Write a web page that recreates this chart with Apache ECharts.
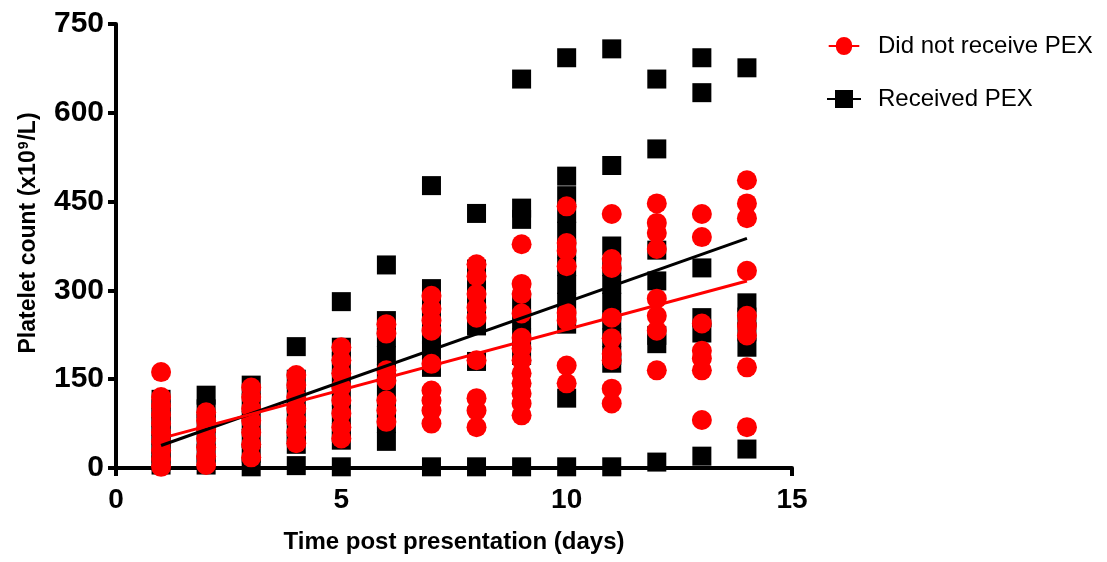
<!DOCTYPE html>
<html><head><meta charset="utf-8">
<script src="https://cdn.jsdelivr.net/npm/echarts@6/dist/echarts.min.js"></script>
<style>html,body{margin:0;padding:0;background:#fff}#c{width:1107px;height:562px}</style>
</head><body><div id="c"></div>
<script>
// Days post presentation
const days = [1,2,3,4,5,6,7,8,9,10,11,12,13,14];
// Platelet counts per day (x10^9/L)
const noPexValues = [
  [162,120,105,90,75,60,45,30,15,2],
  [94,80,65,50,35,20,5],
  [136,120,100,80,60,40,18],
  [157,140,120,100,80,60,42],
  [204,182,160,137,114,92,69,50],
  [243,227,165,148,114,97,78],
  [291,269,249,232,176,131,114,97,75],
  [344,324,294,271,254,182,118,97,69],
  [378,311,294,261,220,202,182,160,143,126,109,89],
  [442,380,367,341,262,249,173,143],
  [429,353,338,254,219,193,182,134,109],
  [447,414,397,370,286,257,232,165],
  [429,390,244,198,185,165,81],
  [486,447,422,333,257,240,224,170,69]
];
const pexValues = [
  [116,100,85,70,55,40,25,12,5],
  [123,100,75,50,25,5],
  [140,110,80,50,25,2],
  [205,150,120,90,60,40,4],
  [281,204,180,150,120,90,60,47,2],
  [343,249,220,190,160,130,100,75,45],
  [477,303,275,250,225,200,170,2],
  [430,336,305,275,240,180,2],
  [657,439,420,279,250,220,190,2],
  [693,493,460,430,400,370,340,310,280,243,118,2],
  [708,511,375,340,310,280,250,220,190,177,2],
  [657,539,368,316,224,210,10],
  [693,634,338,254,228,20],
  [676,279,255,230,204,32]
];
// Regression line end points
const fitDays = [1, 14];
const noPexFit = [50, 316];
const pexFit = [38, 388];
const seriesNames = ['Did not receive PEX', 'Received PEX'];

function pairs(vals) {
  const out = [];
  days.forEach((d, i) => vals[i].forEach(v => out.push([d, v])));
  return out;
}
function fitPairs(vals) { return fitDays.map((d, i) => [d, vals[i]]); }

const font = 'Liberation Sans, Arial, sans-serif';
const chart = echarts.init(document.getElementById('c'), null, {renderer: 'canvas'});
chart.setOption({
  animation: false,
  backgroundColor: '#fff',
  grid: {left: 116, right: 315, top: 24, bottom: 94},
  legend: {
    orient: 'vertical', left: 822, top: 29, itemWidth: 34, itemHeight: 18, itemGap: 29,
    textStyle: {fontFamily: font, fontSize: 24, color: '#000', padding: [0, 0, 0, 12]},
    data: [
      {name: seriesNames[0], icon: 'path://M0,8H8A9,9,0,1,1,26,8H34V10H26A9,9,0,1,1,8,10H0Z'},
      {name: seriesNames[1], icon: 'path://M0,8H8V0H26V8H34V10H26V18H8V10H0Z'}
    ]
  },
  xAxis: {
    type: 'value', min: 0, max: 15, interval: 5,
    axisLine: {lineStyle: {color: '#000', width: 4}},
    axisTick: {show: true, length: 8, lineStyle: {color: '#000', width: 4}},
    splitLine: {show: false},
    axisLabel: {color: '#000', fontSize: 28, fontWeight: 'bold', fontFamily: font, margin: 18},
    name: 'Time post presentation (days)', nameLocation: 'middle', nameGap: 62,
    nameTextStyle: {color: '#000', fontSize: 24, fontWeight: 'bold', fontFamily: font}
  },
  yAxis: {
    type: 'value', min: 0, max: 750, interval: 150,
    axisLine: {show: true, lineStyle: {color: '#000', width: 4}},
    axisTick: {show: true, length: 8, lineStyle: {color: '#000', width: 4}},
    splitLine: {show: false},
    axisLabel: {color: '#000', fontSize: 30, fontWeight: 'bold', fontFamily: font, margin: 12},
    name: 'Platelet count (x10{sup|9}/L)', nameLocation: 'middle', nameGap: 76,
    nameTextStyle: {color: '#000', fontSize: 23, fontWeight: 'bold', fontFamily: font, padding: [0, 0, 0, 26],
      rich: {sup: {fontSize: 14, fontWeight: 'bold', verticalAlign: 'top', fontFamily: font, color: '#000', padding: [0, 1, 9, 1]}}}
  },
  series: [
    {name: seriesNames[1], type: 'scatter', symbol: 'rect', symbolSize: 19,
      itemStyle: {color: '#000', opacity: 1}, data: pairs(pexValues), z: 2},
    {name: seriesNames[0], type: 'scatter', symbol: 'circle', symbolSize: 20,
      itemStyle: {color: '#ff0000', opacity: 1}, data: pairs(noPexValues), z: 3},
    {name: 'pexFit', type: 'line', data: fitPairs(pexFit), symbol: 'none',
      lineStyle: {color: '#000', width: 3}, z: 4},
    {name: 'noPexFit', type: 'line', data: fitPairs(noPexFit), symbol: 'none',
      lineStyle: {color: '#ff0000', width: 3}, z: 5}
  ]
});
</script>
</body></html>
